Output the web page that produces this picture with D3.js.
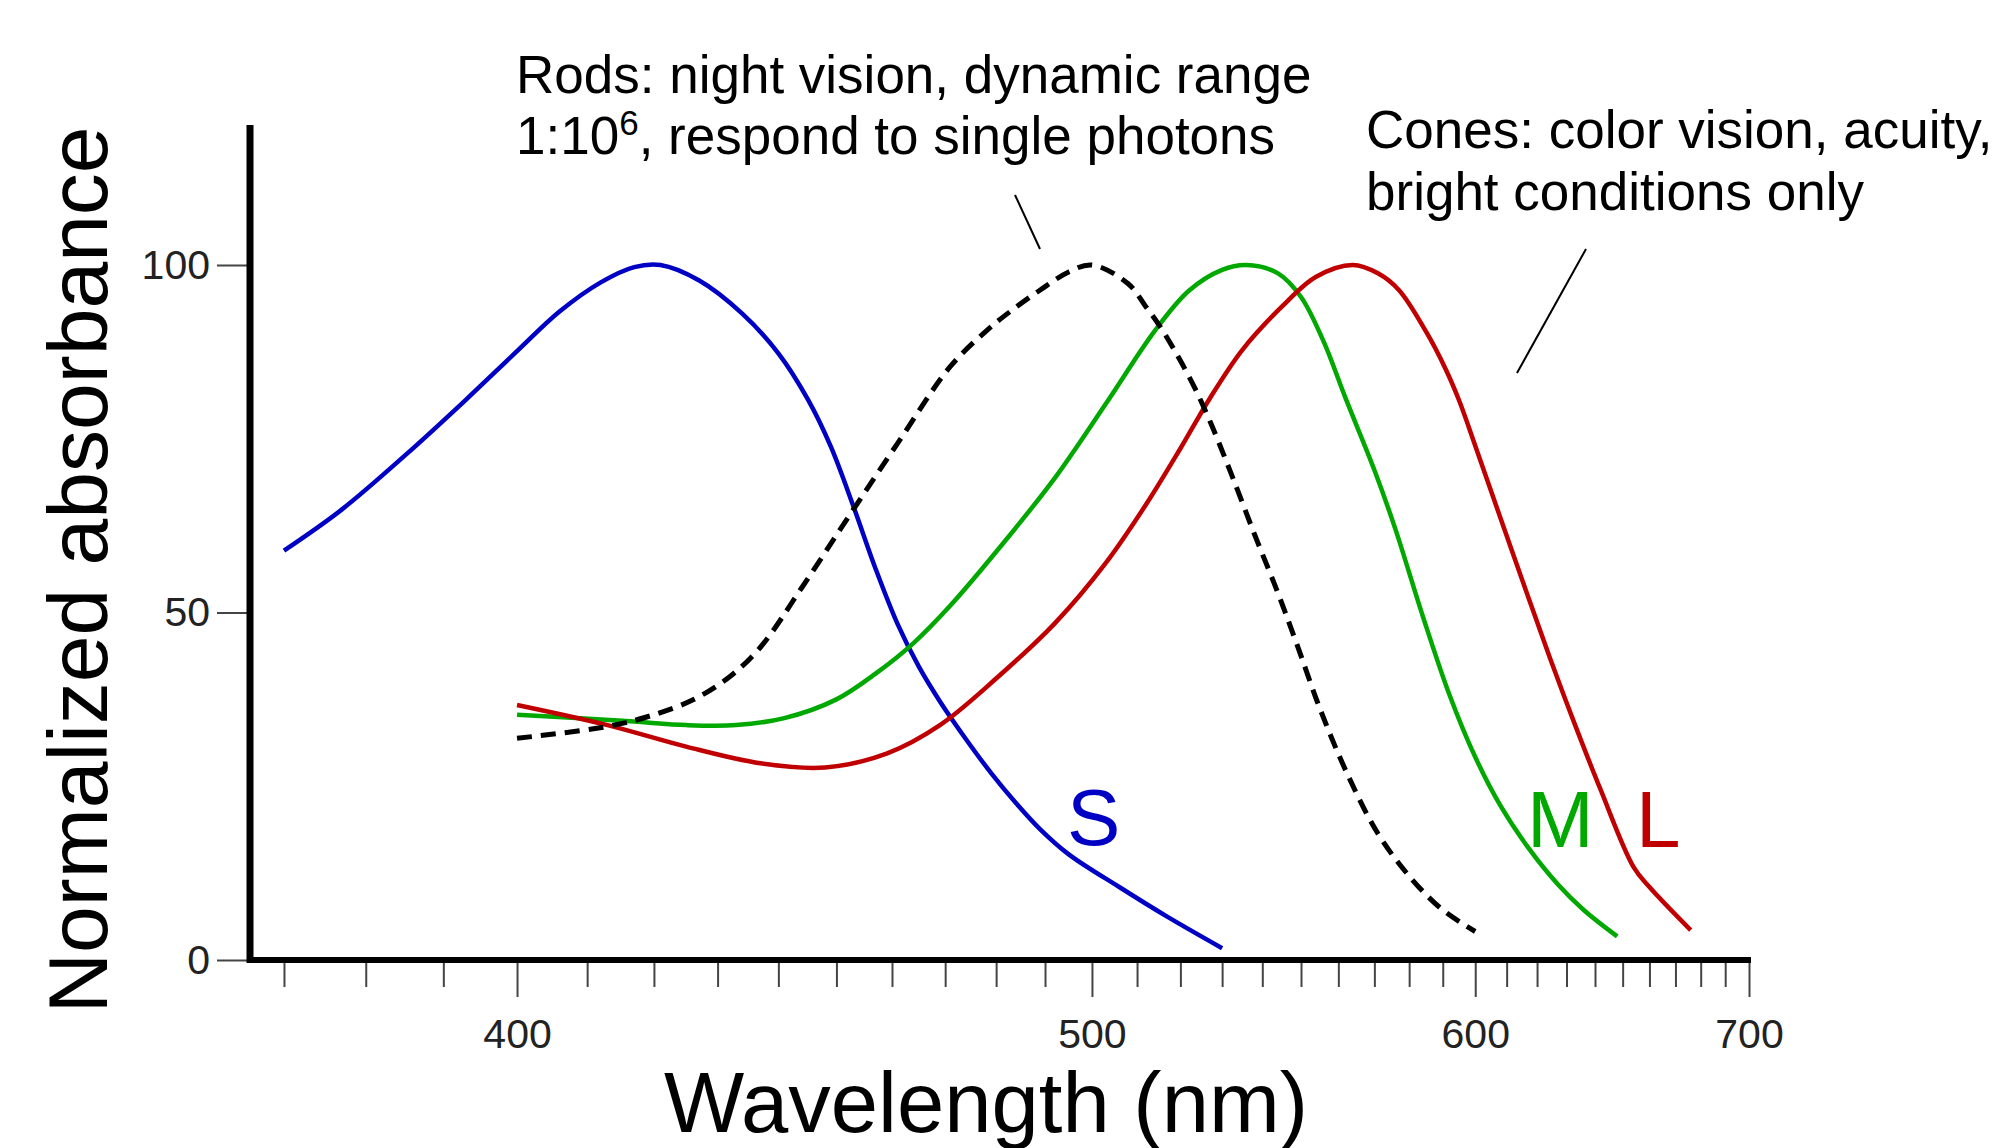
<!DOCTYPE html>
<html>
<head>
<meta charset="utf-8">
<script src="https://cdn.jsdelivr.net/npm/d3@7"></script>
<style>
  body { margin: 0; background: #fff; }
  svg { display: block; font-family: "Liberation Sans", Arial, sans-serif; }
  .tick text { fill: #222; }
</style>
</head>
<body>
<div id="chart"></div>
<script>
// Absorbance spectra (wavelength in nm, absorbance in % of peak)
const sWavelength = [370, 377, 385, 393, 400, 406, 412, 417, 421, 427, 434, 440, 445, 449, 453, 457, 461, 465, 469, 474, 479, 484, 489, 495, 506, 517, 530];
const sAbsorbance = [58.9, 64.8, 72.6, 80.6, 87.6, 93.3, 97.5, 99.7, 100, 97.8, 93.0, 87.3, 80.7, 73.9, 65.3, 56.3, 48.4, 42.2, 37.2, 31.8, 26.9, 22.6, 18.8, 15.2, 10.5, 6.2, 1.7];

const mWavelength = [400, 409, 417, 425, 433, 441, 450, 457, 464, 471, 481, 492, 503, 514, 522, 530, 536, 544, 550, 556, 562, 570, 576, 584, 592, 600, 608, 617, 627, 636, 648];
const mAbsorbance = [35.3, 34.8, 34.3, 33.8, 33.8, 34.8, 37.5, 41.2, 45.6, 51.0, 59.6, 69.3, 80.0, 90.5, 96.3, 99.3, 100, 98.8, 95.4, 89.0, 80.8, 70.5, 62.0, 49.5, 38.2, 29.2, 22.2, 16.2, 10.9, 7.2, 3.4];

const lWavelength = [400, 413, 425, 437, 448, 459, 469, 480, 492, 503, 512, 520, 527, 535, 545, 554, 564, 571, 577, 585, 591, 595, 600, 608, 617, 625, 633, 642, 654, 660, 676];
const lAbsorbance = [36.7, 33.8, 30.7, 28.3, 27.7, 29.7, 33.8, 40.5, 48.4, 57.1, 65.5, 73.6, 80.8, 87.8, 94.0, 98.3, 100, 98.8, 96.4, 90.4, 84.9, 80.5, 74.0, 63.6, 52.3, 42.7, 33.8, 24.5, 13.4, 10.5, 4.3];

const rodWavelength = [400, 413, 419, 426, 432, 437, 444, 452, 461, 471, 478, 483, 489, 495, 500, 508, 512, 515, 519, 523, 527, 532, 538, 544, 549, 555, 562, 571, 581, 590, 600];
const rodAbsorbance = [31.9, 33.6, 35.0, 37.4, 40.8, 45.0, 53.6, 63.6, 74.3, 85.4, 90.5, 93.4, 96.4, 99.0, 100, 97.3, 94.0, 91.4, 87.3, 82.8, 77.6, 70.3, 61.3, 52.8, 45.3, 36.2, 27.3, 18.2, 11.5, 7.2, 4.1];

const majorTicks = [400, 500, 600, 700];
const minorTicks = d3.range(370, 700, 10).filter(d => !majorTicks.includes(d));
const yTicks = [0, 50, 100];

const series = [
  { name: 'S', wl: sWavelength, abs: sAbsorbance, color: '#0000c4', dash: null },
  { name: 'M', wl: mWavelength, abs: mAbsorbance, color: '#00a800', dash: null },
  { name: 'L', wl: lWavelength, abs: lAbsorbance, color: '#c00000', dash: null },
  { name: 'rods', wl: rodWavelength, abs: rodAbsorbance, color: '#000', dash: '15,9' }
];

function drawChart(selector) {
  const W = 2002, H = 1148;
  const left = 250, right = 1749, bottom = 960, top = 265;

  const svg = d3.select(selector).append('svg')
    .attr('width', W)
    .attr('height', H);

  // x axis is linear in wavenumber (1/wavelength)
  const xInv = d3.scaleLinear()
    .domain([1 / 366, 1 / 700])
    .range([left, right]);
  const x = wl => xInv(1 / wl);

  const y = d3.scaleLinear()
    .domain([0, 100])
    .range([bottom, top]);

  // minor ticks
  const minorAxis = svg.append('g')
    .attr('transform', `translate(0,${bottom})`)
    .call(d3.axisBottom(xInv)
      .tickValues(minorTicks.map(d => 1 / d))
      .tickSize(27)
      .tickFormat(''));
  minorAxis.select('.domain').remove();
  minorAxis.selectAll('line').attr('stroke', '#444').attr('stroke-width', 2);

  // major ticks with labels
  const majorAxis = svg.append('g')
    .attr('transform', `translate(0,${bottom})`)
    .call(d3.axisBottom(xInv)
      .tickValues(majorTicks.map(d => 1 / d))
      .tickSize(37)
      .tickPadding(22)
      .tickFormat(d => Math.round(1 / d)));
  majorAxis.select('.domain').remove();
  majorAxis.selectAll('line').attr('stroke', '#444').attr('stroke-width', 2);
  majorAxis.selectAll('text').attr('font-size', 41).attr('font-family', null);

  const yAxis = svg.append('g')
    .attr('transform', `translate(${left},0)`)
    .call(d3.axisLeft(y)
      .tickValues(yTicks)
      .tickSize(33)
      .tickPadding(7));
  yAxis.select('.domain').remove();
  yAxis.selectAll('line').attr('stroke', '#444').attr('stroke-width', 2);
  yAxis.selectAll('text').attr('font-size', 41).attr('font-family', null);

  // main axis lines
  svg.append('line')
    .attr('x1', left).attr('x2', left)
    .attr('y1', 125).attr('y2', bottom + 3)
    .attr('stroke', '#000').attr('stroke-width', 7);
  svg.append('line')
    .attr('x1', left - 3).attr('x2', right + 2)
    .attr('y1', bottom).attr('y2', bottom)
    .attr('stroke', '#000').attr('stroke-width', 6);

  // curves
  const line = d3.line()
    .x(d => x(d[0]))
    .y(d => y(d[1]))
    .curve(d3.curveCatmullRom.alpha(0.5));

  svg.selectAll('.curve')
    .data(series)
    .enter().append('path')
    .attr('class', 'curve')
    .attr('d', s => line(d3.zip(s.wl, s.abs)))
    .attr('fill', 'none')
    .attr('stroke', s => s.color)
    .attr('stroke-width', s => s.dash ? 5 : 4.5)
    .attr('stroke-dasharray', s => s.dash);

  // curve labels
  const labels = [
    { t: 'S', x: 1067, y: 845, c: '#0000c4' },
    { t: 'M', x: 1527, y: 847, c: '#00a800' },
    { t: 'L', x: 1636, y: 847, c: '#c00000' }
  ];
  svg.selectAll('.curve-label')
    .data(labels)
    .enter().append('text')
    .attr('class', 'curve-label')
    .attr('x', d => d.x)
    .attr('y', d => d.y)
    .attr('font-size', 80)
    .attr('fill', d => d.c)
    .text(d => d.t);

  // annotations
  const rods = svg.append('text').attr('font-size', 53).attr('fill', '#000');
  rods.append('tspan').attr('x', 516).attr('y', 93).text('Rods: night vision, dynamic range');
  rods.append('tspan').attr('x', 516).attr('y', 154).text('1:10');
  rods.append('tspan').attr('font-size', 35).attr('dy', -19).text('6');
  rods.append('tspan').attr('dy', 19).text(', respond to single photons');

  const cones = svg.append('text').attr('font-size', 53).attr('fill', '#000');
  cones.append('tspan').attr('x', 1366).attr('y', 148).text('Cones: color vision, acuity,');
  cones.append('tspan').attr('x', 1366).attr('y', 210).text('bright conditions only');

  svg.append('line')
    .attr('x1', 1015).attr('y1', 195).attr('x2', 1040).attr('y2', 249)
    .attr('stroke', '#000').attr('stroke-width', 2);
  svg.append('line')
    .attr('x1', 1586).attr('y1', 249).attr('x2', 1517).attr('y2', 373)
    .attr('stroke', '#000').attr('stroke-width', 2);

  // axis titles
  svg.append('text')
    .attr('x', 664)
    .attr('y', 1132)
    .attr('font-size', 85)
    .text('Wavelength (nm)');

  svg.append('text')
    .attr('transform', 'translate(107,570) rotate(-90)')
    .attr('text-anchor', 'middle')
    .attr('font-size', 84)
    .text('Normalized absorbance');
}

drawChart('#chart');
</script>
</body>
</html>
